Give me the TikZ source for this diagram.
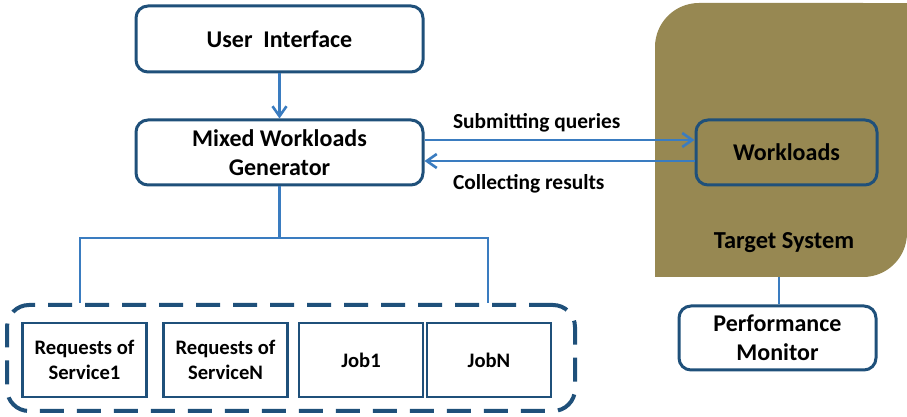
\documentclass[tikz,border=0pt]{standalone}
\usepackage{fontspec}
\setmainfont{Carlito}
\usetikzlibrary{arrows.meta}
\definecolor{boxblue}{RGB}{31,80,122}
\definecolor{linkblue}{RGB}{58,124,192}
\definecolor{tsolive}{RGB}{151,136,82}

\begin{document}
\begin{tikzpicture}[x=0.5pt,y=-0.5pt,
    block/.style={draw=boxblue,line width=1.5pt,rounded corners=6pt,fill=white,align=center,font=\bfseries\fontsize{12}{14.5}\selectfont},
    task/.style={draw=boxblue,line width=1.3pt,fill=white,align=center,minimum width=62pt,minimum height=37pt,font=\bfseries\fontsize{10.3}{12.5}\selectfont},
    link/.style={draw=linkblue,line width=1.4pt},
    flow/.style={link,-{Straight Barb[length=5pt,width=7pt,line width=1.3pt]}},
    lbl/.style={font=\bfseries\fontsize{10.7}{12}\selectfont,anchor=west}]
  \useasboundingbox (0,0) rectangle (907,417);
  % Target system background
  \fill[tsolive,rounded corners=22pt] (655,3) rectangle (907,277);
  \fill[tsolive] (800,3) rectangle (907,120);
  \fill[tsolive] (655,180) rectangle (760,277);
  \node[font=\bfseries\fontsize{12.2}{14}\selectfont] (tslabel) at (784,243) {Target System};
  \coordinate (tsbottom) at (779,277);
  % Main blocks
  \node[block,minimum width=143.5pt,minimum height=33pt] (ui) at (279.5,39) {User\ \ Interface};
  \node[block,minimum width=143.5pt,minimum height=32.5pt] (mwg) at (279.5,152.5) {Mixed Workloads\\Generator};
  \node[block,minimum width=90.5pt,minimum height=32.5pt,fill=none] (wl) at (786.5,152.5) {Workloads};
  \node[block,minimum width=98.5pt,minimum height=32pt] (pm) at (777.5,338) {Performance\\Monitor};
  % Workload pool
  \node[draw=boxblue,line width=2pt,rounded corners=11pt,dash pattern=on 12pt off 6.5pt,
        minimum width=284pt,minimum height=53pt] (pool) at (291,358) {};
  \node[task] (svc1) at (84.5,360) {Requests of\\Service1};
  \node[task] (svcn) at (225.5,360) {Requests of\\ServiceN};
  \node[task] (job1) at (361,360) {Job1};
  \node[task] (jobn) at (489,360) {JobN};
  % Connectors
  \draw[flow] (ui.south) -- (mwg.north);
  \draw[flow] ([yshift=6.25pt]mwg.east) -- ([yshift=6.25pt]wl.west);
  \draw[flow] ([yshift=-4.25pt]wl.west) -- ([yshift=-4.25pt]mwg.east);
  \node[lbl] (sub) at (446,123) {Submitting queries};
  \node[lbl] (col) at (446,184) {Collecting results};
  \draw[link] (tsbottom) -- (pm.north -| tsbottom);
  \coordinate (lt) at (80,238);
  \coordinate (rt) at (488,238);
  \draw[link] (mwg.south) |- (lt) -- (lt |- pool.north);
  \draw[link] (lt) -- (rt) -- (rt |- pool.north);
\end{tikzpicture}
\end{document}
